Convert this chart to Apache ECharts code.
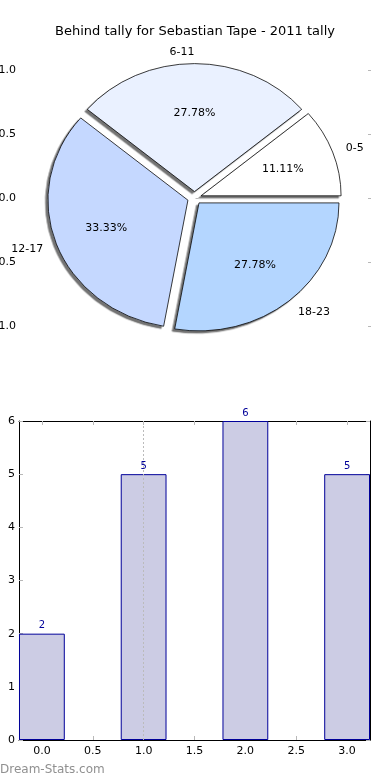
<!DOCTYPE html>
<html>
<head>
<meta charset="utf-8">
<script src="https://cdn.jsdelivr.net/npm/echarts@6/dist/echarts.min.js"></script>
<style>
  html, body { margin: 0; padding: 0; background: #fff; }
  #wrap { position: relative; width: 390px; height: 780px; }
  #chart { position: absolute; left: 0; top: 0; width: 390px; height: 780px; }
  #pie { position: absolute; left: 0; top: 0; width: 390px; height: 400px;
         transform-origin: 194.5px 198px; transform: scaleY(0.9143); pointer-events: none; }
</style>
</head>
<body>
<div id="wrap">
  <div id="chart"></div>
  <div id="pie"></div>
</div>
<script>
const titleText = 'Behind tally for Sebastian Tape - 2011 tally';
const categories = ['0-5', '6-11', '12-17', '18-23'];
const tallies = [2, 5, 6, 5];
const barPositions = [0, 1, 2, 3];
const sliceColors = ['#ffffff', '#eaf1ff', '#c5d8ff', '#b4d6ff'];
const pieTickValues = [-1.0, -0.5, 0.0, 0.5, 1.0];
const barXTicks = [0.0, 0.5, 1.0, 1.5, 2.0, 2.5, 3.0];
const barYTicks = [0, 1, 2, 3, 4, 5, 6];
const watermark = 'Dream-Stats.com';

const FONT = 'DejaVu Sans';
const TICK = '#b8b8b8';

const chart = echarts.init(document.getElementById('chart'), null, { renderer: 'canvas' });
const pieChart = echarts.init(document.getElementById('pie'), null, { renderer: 'svg' });

const pieData = categories.map((c, i) => ({
  name: c, value: tallies[i], selected: true,
  itemStyle: { color: sliceColors[i] },
  select: { itemStyle: { color: sliceColors[i] } }
}));
const pieLabelData = categories.map((c, i) => ({
  name: c, value: tallies[i], selected: true
}));

const pieCenter = [194.5, 198];
const pieR = 140;
const explode = 7;

pieChart.setOption({
  animation: false,
  series: [
    {
      type: 'pie', name: 'slices', center: pieCenter, radius: pieR,
      startAngle: 0, clockwise: false,
      selectedMode: 'multiple', selectedOffset: explode,
      avoidLabelOverlap: false, silent: true,
      emphasis: { disabled: true, scale: false },
      itemStyle: {
        borderColor: '#000', borderWidth: 0.8,
        shadowColor: 'rgba(0,0,0,0.55)', shadowBlur: 1, shadowOffsetX: -2.5, shadowOffsetY: 2.5
      },
      label: { show: true, position: 'outside', formatter: '{b}', distanceToLabelLine: 0,
        fontFamily: FONT, fontSize: 11, color: '#000' },
      labelLine: { show: false, length: 14, length2: 0 },
      labelLayout: p => (p.dataIndex === 1 ? { align: 'right' } : {}),
      data: pieData
    },
    {
      type: 'pie', name: 'pct', center: pieCenter, radius: pieR * 1.2,
      startAngle: 0, clockwise: false, silent: true,
      selectedMode: 'multiple', selectedOffset: explode,
      emphasis: { disabled: true, scale: false },
      itemStyle: { color: 'rgba(0,0,0,0)', borderWidth: 0 },
      select: { itemStyle: { color: 'rgba(0,0,0,0)', borderWidth: 0 } },
      label: { show: true, position: 'inside', formatter: '{d}%', fontFamily: FONT, fontSize: 11, color: '#000' },
      labelLine: { show: false },
      data: pieLabelData
    }
  ]
});

chart.setOption({
  animation: false,
  title: {
    text: titleText, left: 'center', top: 25, padding: 0,
    textStyle: { fontFamily: FONT, fontSize: 13, fontWeight: 'normal', color: '#000' }
  },
  grid: [
    { left: 20, right: 19, top: 70, height: 256, containLabel: false, outerBoundsMode: 'none' },
    { left: 19, right: 20, top: 421, bottom: 40, containLabel: false, outerBoundsMode: 'none' }
  ],
  xAxis: [
    { gridIndex: 0, type: 'value', show: false, min: -1, max: 1 },
    {
      gridIndex: 1, type: 'value', position: 'bottom', min: -0.225, max: 3.225,
      axisLine: { show: true, onZero: false, lineStyle: { color: '#000', width: 1 } },
      axisTick: { show: true, inside: true, length: 4, customValues: barXTicks, lineStyle: { color: TICK, width: 1 } },
      axisLabel: { show: true, customValues: barXTicks, margin: 6, fontFamily: FONT, fontSize: 11, color: '#000',
        formatter: v => v.toFixed(1) },
      splitLine: { show: false }
    },
    {
      gridIndex: 1, type: 'value', position: 'top', min: -0.225, max: 3.225,
      axisLine: { show: true, onZero: false, lineStyle: { color: '#000', width: 1 } },
      axisTick: { show: true, inside: true, length: 4, customValues: barXTicks, lineStyle: { color: TICK, width: 1 } },
      axisLabel: { show: false },
      splitLine: { show: false }
    }
  ],
  yAxis: [
    {
      gridIndex: 0, type: 'value', position: 'left', min: -1, max: 1,
      axisLine: { show: false },
      axisTick: { show: true, inside: true, length: 3, customValues: pieTickValues, lineStyle: { color: TICK, width: 1 } },
      axisLabel: { show: true, customValues: pieTickValues, margin: 4, fontFamily: FONT, fontSize: 11, color: '#000',
        formatter: v => v.toFixed(1) },
      splitLine: { show: false }
    },
    {
      gridIndex: 0, type: 'value', position: 'right', min: -1, max: 1,
      axisLine: { show: false },
      axisTick: { show: true, inside: true, length: 3, customValues: pieTickValues, lineStyle: { color: TICK, width: 1 } },
      axisLabel: { show: false },
      splitLine: { show: false }
    },
    {
      gridIndex: 1, type: 'value', position: 'left', min: 0, max: 6,
      axisLine: { show: true, onZero: false, lineStyle: { color: '#000', width: 1 } },
      axisTick: { show: true, inside: true, length: 4, customValues: barYTicks, lineStyle: { color: TICK, width: 1 } },
      axisLabel: { show: true, customValues: barYTicks, margin: 4, fontFamily: FONT, fontSize: 11, color: '#000' },
      splitLine: { show: false }
    },
    {
      gridIndex: 1, type: 'value', position: 'right', min: 0, max: 6,
      axisLine: { show: true, onZero: false, lineStyle: { color: '#000', width: 1 } },
      axisTick: { show: true, inside: true, length: 4, customValues: barYTicks, lineStyle: { color: TICK, width: 1 } },
      axisLabel: { show: false },
      splitLine: { show: false }
    }
  ],
  graphic: [
    {
      type: 'text', left: 0, top: 764,
      style: { text: watermark, fontFamily: FONT, fontSize: 12, fontWeight: 'normal', fill: '#909090' }
    }
  ],
  series: [
    {
      type: 'bar', name: 'tally', xAxisIndex: 1, yAxisIndex: 2,
      data: barPositions.map((x, i) => [x, tallies[i]]),
      barWidth: 45.8,
      itemStyle: { color: '#ccccE4', borderColor: '#000099', borderWidth: 1 },
      label: { show: true, position: 'top', distance: 3, fontFamily: FONT, fontSize: 10, color: '#000099' },
      emphasis: { disabled: true },
      markLine: {
        silent: true, symbol: 'none', label: { show: false },
        lineStyle: { color: '#bbbbbb', type: [2, 2], width: 1 },
        data: [{ xAxis: 1 }]
      }
    }
  ]
});
</script>
</body>
</html>
